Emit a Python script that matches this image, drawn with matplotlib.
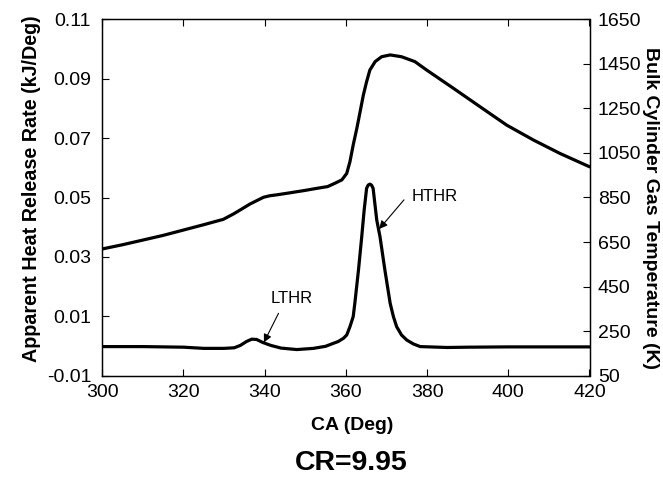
import matplotlib
matplotlib.use("Agg")
import matplotlib.pyplot as plt

plt.rcParams['font.family'] = ['Liberation Sans', 'DejaVu Sans']

# Bulk cylinder gas temperature (K) vs crank angle
temp_ca = [300, 305, 309.3, 315, 320, 325, 329.8, 332.3, 334.5, 336.4, 339.7, 341.3,
           343, 346.2, 350, 352.8, 355.5, 357.3, 359.0, 360.2, 361.0, 361.8, 362.7,
           363.5, 364.3, 365.1, 365.9, 367.2, 368.8, 370.9, 373.7, 377.0, 379.9,
           386.5, 393, 399.6, 406.2, 412.7, 420]
temp_k = [619, 638, 656, 680, 704, 728, 752, 776, 800, 821, 851, 858,
          862, 871, 882, 891, 899, 914, 929, 958, 1011, 1086, 1161,
          1235, 1310, 1370, 1422, 1460, 1482, 1490, 1482, 1460, 1422,
          1340, 1258, 1175, 1108, 1048, 988]

# Apparent heat release rate (kJ/Deg) vs crank angle
hrr_ca = [300, 310, 320, 325, 330, 332.5, 334, 335.5, 336.8, 338, 339.5, 341.5, 344,
          347.9, 352, 355, 356.9, 358.1, 359.4, 360.2, 361.0, 361.8, 362.2, 363.1,
          363.9, 364.5, 365.1, 365.5, 365.9, 366.3, 366.7, 367.6, 368.4, 369.6, 370.9,
          371.7, 372.5, 373.7, 375, 376.6, 378.3, 385, 390, 400, 410, 420]
hrr_val = [-0.0002, -0.0002, -0.0004, -0.0008, -0.0008, -0.0006, 0.0002, 0.0015, 0.0023,
           0.0022, 0.0012, 0.0002, -0.0007, -0.0012, -0.0008, -0.0001, 0.0009, 0.0015,
           0.0026, 0.0037, 0.0065, 0.0099, 0.0144, 0.0256, 0.0368, 0.0458, 0.0531,
           0.0542, 0.0545, 0.0542, 0.0531, 0.0424, 0.0368, 0.0256, 0.0144, 0.0099,
           0.0065, 0.0037, 0.0020, 0.0007, -0.0002, -0.0005, -0.0004, -0.0003, -0.0003,
           -0.0003]

x_ticks = [300, 320, 340, 360, 380, 400, 420]
left_ticks = [-0.01, 0.01, 0.03, 0.05, 0.07, 0.09, 0.11]
left_labels = ['-0.01', '0.01', '0.03', '0.05', '0.07', '0.09', '0.11']
right_ticks = [50, 250, 450, 650, 850, 1050, 1250, 1450, 1650]

W, H = 663, 483
fig = plt.figure(figsize=(W / 100, H / 100), dpi=100)
ax = fig.add_axes([102.3 / W, 1 - 375.7 / H, (589.5 - 102.3) / W, (375.7 - 19.3) / H])
ax2 = ax.twinx()

ax.plot(hrr_ca, hrr_val, color='black', lw=2.3, solid_joinstyle='round',
        solid_capstyle='round')
ax2.plot(temp_ca, temp_k, color='black', lw=2.3, solid_joinstyle='round',
         solid_capstyle='round')

ax.set_xlim(300, 420)
ax.set_ylim(-0.01, 0.11)
ax2.set_ylim(50, 1650)
ax.set_xticks(x_ticks)
ax.set_xticklabels([str(t) for t in x_ticks])
ax.set_yticks(left_ticks)
ax.set_yticklabels(left_labels)
ax2.set_yticks(right_ticks)
ax2.set_yticklabels([str(t) for t in right_ticks])

tick_fs = 14
ax.tick_params(axis='x', direction='in', length=5, width=0.8, labelsize=tick_fs,
               top=True, pad=6)
ax.tick_params(axis='y', direction='in', length=5, width=0.8, labelsize=tick_fs,
               pad=8, right=False)
ax2.tick_params(axis='y', direction='in', length=5, width=0.8, labelsize=tick_fs, pad=6)
for a in (ax, ax2):
    for s in a.spines.values():
        s.set_linewidth(0.9)

# annotations
ax.text(346.6, 0.016, 'LTHR', fontsize=12, ha='center', va='center')
ax.annotate('', xy=(339.8, 0.0012), xytext=(343.4, 0.011),
            arrowprops=dict(arrowstyle='-|>', lw=0.8, color='black',
                            mutation_scale=12, shrinkA=0, shrinkB=0))
ax.text(376.2, 0.0503, 'HTHR', fontsize=12, ha='left', va='center')
ax.annotate('', xy=(368.2, 0.0394), xytext=(374.3, 0.0492),
            arrowprops=dict(arrowstyle='-|>', lw=0.8, color='black',
                            mutation_scale=12, shrinkA=0, shrinkB=0))

# axis labels
fig.text(31.7 / W, 1 - 188.5 / H, 'Apparent Heat Release Rate (kJ/Deg)', rotation=90,
         ha='center', va='center', fontsize=14.2, fontweight='bold')
fig.text(651 / W, 1 - 208 / H, 'Bulk Cylinder Gas Temperature (K)', rotation=270,
         ha='center', va='center', fontsize=14, fontweight='bold')
fig.text(352.5 / W, 1 - 425 / H, 'CA (Deg)', ha='center', va='center',
         fontsize=14, fontweight='bold')
fig.text(351.5 / W, 1 - 463 / H, 'CR=9.95', ha='center', va='center',
         fontsize=20.5, fontweight='bold')

fig.savefig('out.png', dpi=100)
